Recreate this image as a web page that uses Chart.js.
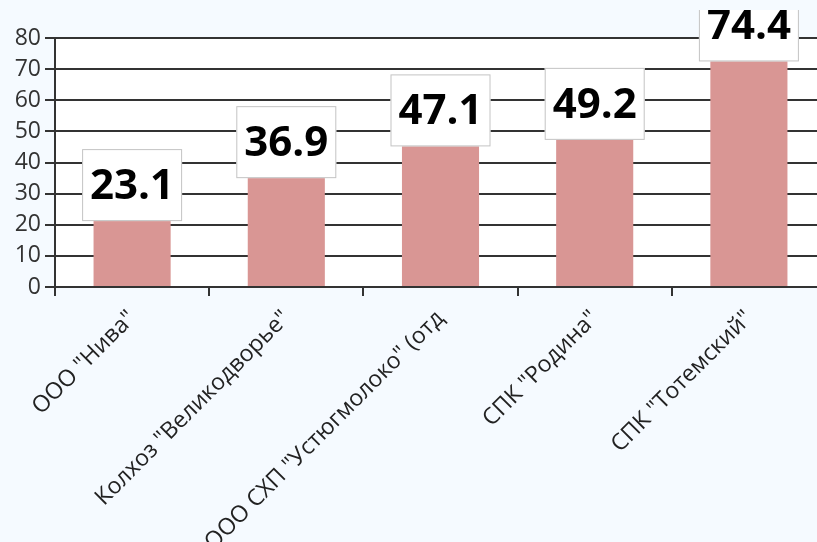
<!DOCTYPE html>
<html>
<head>
<meta charset="utf-8">
<script src="https://cdn.jsdelivr.net/npm/chart.js@4/dist/chart.umd.min.js"></script>
<style>
  html, body { margin: 0; padding: 0; background: #f5faff; overflow: hidden; }
  #wrap { width: 826px; height: 542px; }
</style>
</head>
<body>
<div id="wrap"><canvas id="myChart" width="826" height="542"></canvas></div>
<script>
// данные графика
const categorias = ['ООО "Нива"', 'Колхоз "Великодворье"', 'ООО СХП "Устюгмолоко" (отд', 'СПК "Родина"', 'СПК "Тотемский"'];
const valores = [23.1, 36.9, 47.1, 49.2, 74.4];
const yMin = 0;
const yMax = 80;
const yPaso = 10;

// fondo blanco solo en el area del grafico
const fondoArea = {
  id: "fondoArea",
  beforeDraw(chart) {
    const { ctx, chartArea: a } = chart;
    ctx.save();
    ctx.fillStyle = "#ffffff";
    ctx.fillRect(a.left, a.top, a.right - a.left, a.bottom - a.top);
    ctx.restore();
  }
};

// etiquetas de valor en cajas blancas
const etiquetasValor = {
  id: "etiquetasValor",
  afterDatasetsDraw(chart) {
    const ctx = chart.ctx;
    const meta = chart.getDatasetMeta(0);
    ctx.save();
    ctx.beginPath();
    ctx.rect(0, 10, chart.width, chart.height);
    ctx.clip();
    meta.data.forEach((bar, i) => {
      const w = 100, h = 72;
      const x = bar.x - w / 2;
      const y = bar.y + 6 - h;
      ctx.fillStyle = "#ffffff";
      ctx.fillRect(x, y, w, h);
      ctx.strokeStyle = "#c4c4c4";
      ctx.lineWidth = 1;
      ctx.strokeRect(x + 0.5, y + 0.5, w - 1, h - 1);
      ctx.fillStyle = "#000000";
      ctx.font = "bold 42px 'Open Sans'";
      ctx.textAlign = "center";
      ctx.textBaseline = "middle";
      ctx.fillText(valores[i].toFixed(1), bar.x, y + h / 2 + 2);
    });
    ctx.restore();
  }
};

const grafica = document.getElementById("myChart").getContext("2d");
const myChart = new Chart(grafica, {
  type: "bar",
  data: {
    labels: categorias,
    datasets: [{
      data: valores,
      backgroundColor: "#d99694",
      borderWidth: 0,
      categoryPercentage: 1,
      barPercentage: 0.5
    }]
  },
  options: {
    responsive: false,
    animation: false,
    layout: { padding: { top: 38, right: 0, left: 0, bottom: 0 } },
    plugins: { legend: { display: false }, tooltip: { enabled: false } },
    scales: {
      x: {
        grid: { drawOnChartArea: false, color: "#333333", lineWidth: 2, tickLength: 9 },
        border: { color: "#333333", width: 2 },
        ticks: {
          color: "#222222",
          font: { family: "'Open Sans'", size: 23 },
          minRotation: 45,
          maxRotation: 45,
          autoSkip: false,
          padding: 9
        },
        afterFit(scale) { scale.height = 255; }
      },
      y: {
        min: yMin,
        max: yMax,
        ticks: { stepSize: yPaso, color: "#333333", font: { family: "'Open Sans'", size: 23 }, padding: 4 },
        grid: { color: "#333333", lineWidth: 2, tickLength: 10 },
        border: { color: "#333333", width: 2 },
        afterFit(scale) { scale.width = 55; }
      }
    }
  },
  plugins: [fondoArea, etiquetasValor]
});
</script>
</body>
</html>
